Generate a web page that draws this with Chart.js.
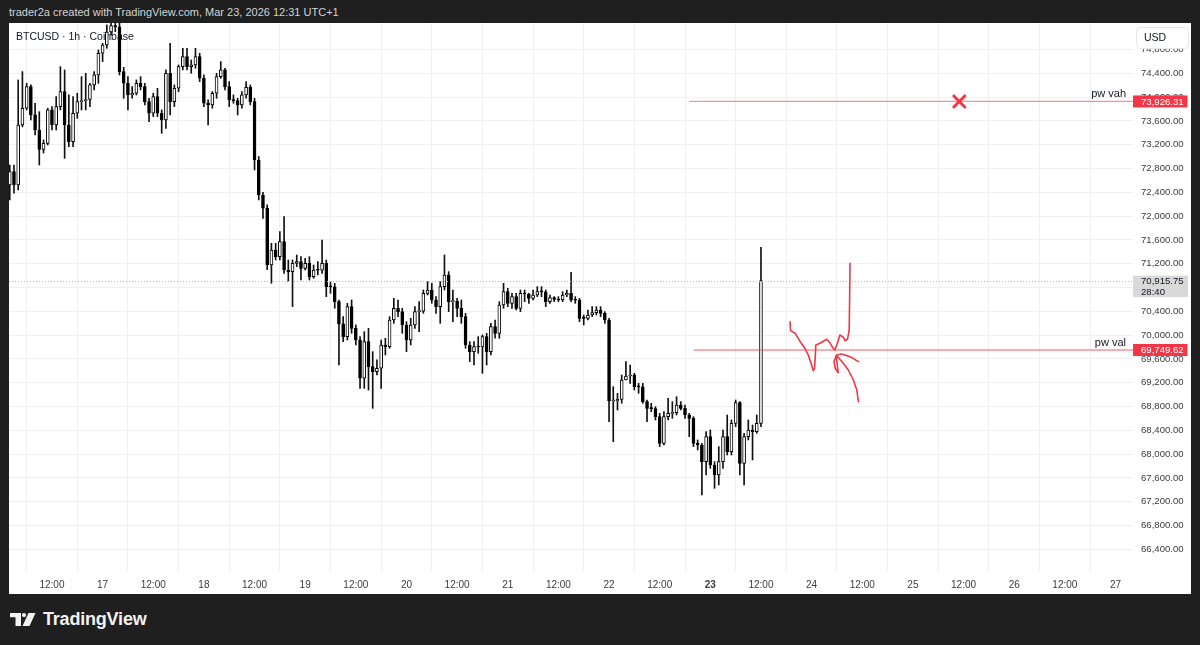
<!DOCTYPE html>
<html>
<head>
<meta charset="utf-8">
<script src="https://cdn.jsdelivr.net/npm/chart.js@4.4.1/dist/chart.umd.min.js"></script>
<style>
  html, body { margin: 0; padding: 0; background: #1f1f1f; width: 1200px; height: 645px; overflow: hidden;
    font-family: "Liberation Sans", Arial, sans-serif; }
  #hdr { position: absolute; left: 9px; top: 6px; font-size: 11px; color: #d4d4d4; white-space: nowrap; }
  #pane { position: absolute; left: 9px; top: 23px; width: 1182px; height: 571px; background: #fff; }
  #chart { position: absolute; left: 0; top: 0; }
  #logo { position: absolute; left: 10px; top: 609px; height: 20px; display: flex; align-items: center; color: #f2f2f2;
    font-size: 18px; font-weight: bold; letter-spacing: -0.2px; }
  #logo svg { margin-right: 7px; }
</style>
</head>
<body>
<div id="hdr">trader2a created with TradingView.com, Mar 23, 2026 12:31 UTC+1</div>
<div id="pane"><canvas id="chart" width="1182" height="571"></canvas></div>
<div id="logo">
  <svg width="26" height="13" viewBox="0 0 26 13"><path d="M0 0H11V13H5.5V4.2H0Z" fill="#f2f2f2"/><circle cx="14" cy="2.1" r="2.1" fill="#f2f2f2"/><path d="M18.5 0H25.5L19.5 13H12.5Z" fill="#f2f2f2"/></svg>
  TradingView
</div>
<script>
// hourly candles, hour 0 = Mar 16 02:00 (UTC+1), last = Mar 23 12:00
const opens = [72523,72747,72523,73531,73812,74176,73700,73447,73122,73223,
  73784,73531,73840,74092,73531,73251,73728,73924,73940,73960,
  74204,74372,74736,74876,75094,75200,75180,74428,74232,74036,
  74064,74232,74176,73924,73728,74008,73728,73616,74400,73924,
  74148,74512,74680,74512,74540,74680,74316,73896,73868,74064,
  74344,74456,74176,73952,73940,73868,74036,74164,73924,72943,
  72355,72131,71178,71430,71318,71570,71094,71066,71206,71234,
  71122,71206,70982,71094,71090,71206,70814,70810,70562,70187,
  69974,70478,70114,69918,69274,69890,69470,69386,69442,69834,
  69806,70254,70450,70394,70170,69918,70170,70394,70400,70702,
  70758,70590,70478,70814,71010,70562,70573,70450,70310,69834,
  69722,69806,69800,69974,69722,70142,70030,70506,70730,70534,
  70646,70450,70702,70690,70618,70674,70730,70725,70562,70629,
  70601,70590,70674,70702,70590,70585,70282,70280,70338,70377,
  70422,70366,70254,68892,68895,68920,69245,69312,69329,69133,
  69130,68881,68769,68765,68629,68181,68629,68685,68696,68825,
  68769,68657,68601,68181,68153,67873,68293,67817,67649,67873,
  68293,68041,68517,68864,67845,68293,68405,68377,68517];
const highs = [72859,72859,74288,74428,74232,74204,73896,73755,73280,73812,
  73840,74008,74512,74456,74036,74008,74064,74344,74400,74232,
  74428,74792,74904,75212,75400,75380,75300,74500,74344,74176,
  74288,74344,74232,73980,74064,74148,73784,74456,74904,74204,
  74540,74820,74820,74624,74820,74736,74372,73952,74092,74400,
  74596,74484,74260,74036,73980,74092,74260,74204,73980,73000,
  72400,72190,71542,71542,71738,71990,71262,71262,71346,71318,
  71290,71318,71178,71234,71598,71262,70898,70870,70590,70310,
  70534,70590,70170,69974,70058,70114,69722,69582,69918,69946,
  70310,70618,70590,70450,70226,70282,70478,70562,70758,70898,
  70870,70646,70898,71346,71066,70758,70618,70590,70366,69890,
  69890,69974,70002,70030,70198,70254,70562,70870,70786,70702,
  70702,70758,70758,70702,70758,70814,70814,70758,70674,70646,
  70646,70730,70758,71055,70646,70618,70338,70422,70478,70478,
  70478,70394,70282,69133,69021,69329,69553,69497,69357,69189,
  69189,68909,68853,68797,68685,68713,68937,68881,68965,68881,
  68825,68685,68629,68237,68181,68377,68405,67873,68125,68405,
  68657,68573,68909,68881,68349,68573,68489,68657,71475];
const lows = [72271,72383,72439,73500,73784,73616,73363,72859,73060,73195,
  73447,73447,73784,72971,73167,73167,73644,73784,73784,73840,
  74120,74232,74596,74820,75040,75100,74372,73980,73784,73980,
  74036,74120,73868,73588,73672,73672,73391,73475,73700,73840,
  74092,74456,74456,74400,74484,74260,73840,73531,73812,73980,
  74316,74120,73840,73896,73700,73812,73980,73868,72775,72271,
  71962,71100,70870,71262,71262,71038,70898,70478,71150,70926,
  71094,70926,70954,71010,71038,70646,70702,70450,69498,69890,
  69918,70030,69834,69105,69105,69077,68769,69330,69105,69666,
  69778,70198,70310,70030,69722,69834,70114,70058,70366,70674,
  70534,70366,70198,70758,70394,70226,70310,70198,69778,69554,
  69498,69694,69357,69498,69666,69946,69946,70450,70478,70450,
  70422,70394,70562,70534,70590,70646,70646,70478,70534,70562,
  70562,70562,70646,70562,70534,70226,70170,70254,70310,70338,
  70310,70198,68545,68209,68741,68853,69245,69189,69077,69021,
  68853,68545,68713,68573,68125,68153,68573,68601,68657,68741,
  68601,68293,68125,68069,67312,67649,67761,67425,67481,67761,
  67985,67985,68461,67649,67481,68237,67901,68349,68461];
const closes = [72747,72523,73531,73812,74176,73700,73447,73122,73223,73784,
  73531,73840,74092,73531,73251,73728,73924,73940,73960,74204,
  74372,74736,74876,75094,75200,75180,74428,74232,74036,74064,
  74232,74176,73924,73728,74008,73728,73616,74400,73924,74148,
  74512,74680,74512,74540,74680,74316,73896,73868,74064,74344,
  74456,74176,73952,73940,73868,74036,74164,73924,72943,72355,
  72131,71178,71430,71318,71570,71094,71066,71206,71234,71122,
  71206,70982,71094,71090,71206,70814,70810,70562,70187,69974,
  70478,70114,69918,69274,69890,69470,69386,69442,69834,69806,
  70254,70450,70394,70170,69918,70170,70394,70400,70702,70758,
  70590,70478,70814,71010,70562,70573,70450,70310,69834,69722,
  69806,69800,69974,69722,70142,70030,70506,70730,70534,70646,
  70450,70702,70690,70618,70674,70730,70725,70562,70629,70601,
  70590,70674,70702,70590,70585,70282,70280,70338,70377,70422,
  70366,70254,68892,68895,68920,69245,69312,69329,69133,69130,
  68881,68769,68765,68629,68181,68629,68685,68696,68825,68769,
  68657,68601,68181,68153,67873,68293,67817,67649,67873,68293,
  68041,68517,68864,67845,68293,68405,68377,68517,70915.75];

const xTickHours = [10,22,34,46,58,70,82,94,106,118,130,142,154,166,178,190,202,214,226,238,250,262];
const xTickLabels = ['12:00','17','12:00','18','12:00','19','12:00','20','12:00','21','12:00','22',
  '12:00','23','12:00','24','12:00','25','12:00','26','12:00','27'];
const boldTick = '23';
const yTickValues = [66400,66800,67200,67600,68000,68400,68800,69200,69600,70000,70400,70800,
  71200,71600,72000,72400,72800,73200,73600,74000,74400,74800];

const currentPrice = 70915.75;
const countdown = '28:40';
const levelPrices = [73926.31, 69749.62];
const levelNames = ['pw vah', 'pw val'];
const levelStart = [161.0, 162.0];
const crossMark = [225.0, 73926.31];
// red brush drawings, [hour, price]
const brushZig = [[184.9,70225],[185.0,70074],[186.1,70030],[187.3,69889],[188.4,69778],[189.2,69665],
  [190.0,69497],[190.4,69402],[190.7,69442],[190.9,69694],[191.0,69833],[192.0,69862],[193.6,69929],
  [194.4,69862],[195.1,69778],[195.5,69750],[196.1,69862],[196.7,70002],[197.5,69963],[197.9,69906],
  [198.5,69929],[198.9,70086],[199.0,70590],[199.1,71207]];
const brushArrow = [[201.1,68881],[200.7,69077],[199.9,69245],[198.7,69413],[197.5,69526],[196.3,69627],
  [195.8,69649],[195.3,69553],[195.6,69442],[196.3,69368],[196.0,69548],[195.8,69649]];
const brushHead = [[201.1,69553],[199.1,69637],[197.1,69682],[195.8,69660]];

const FONT = '"Liberation Sans", Arial, sans-serif';
const fmt = v => v.toLocaleString('en-US', { minimumFractionDigits: 2, maximumFractionDigits: 2 });

const bodies = opens.map((o, i) => ({ x: i, y: [o, closes[i]] }));
const wicks = lows.map((l, i) => ({ x: i, y: [l, highs[i]] }));
const upDown = opens.map((o, i) => closes[i] >= o);

// scales reserve room for edge labels, the pane must not
function noEdgePadding(s) {
  s.paddingTop = 0; s.paddingBottom = 0; s.paddingLeft = 0; s.paddingRight = 0;
}

const overlay = {
  id: 'overlay',
  beforeDatasetsDraw(chart) {
    const c = chart.ctx;
    c.save();
    c.font = '10.5px ' + FONT;
    c.fillStyle = '#131722';
    c.textBaseline = 'middle';
    c.fillText('BTCUSD · 1h · Coinbase', 7, 14);
    c.restore();
  },
  afterDatasetsDraw(chart) {
    const c = chart.ctx, a = chart.chartArea, x = chart.scales.x, y = chart.scales.y;
    c.save();
    c.beginPath();
    c.rect(a.left, a.top, a.right - a.left, a.bottom - a.top);
    c.clip();

    // last price dotted line
    const cy = y.getPixelForValue(currentPrice);
    c.strokeStyle = '#b4b6bd';
    c.lineWidth = 1;
    c.setLineDash([1, 2]);
    c.beginPath();
    c.moveTo(a.left, Math.round(cy) + 0.5);
    c.lineTo(a.right, Math.round(cy) + 0.5);
    c.stroke();
    c.setLineDash([]);

    // horizontal rays
    levelPrices.forEach((p, i) => {
      const py = y.getPixelForValue(p);
      c.strokeStyle = 'rgba(242,54,69,0.55)';
      c.lineWidth = 1.3;
      c.beginPath();
      c.moveTo(x.getPixelForValue(levelStart[i]), py);
      c.lineTo(a.right, py);
      c.stroke();
      c.fillStyle = '#131722';
      c.font = '11px ' + FONT;
      c.textAlign = 'right';
      c.textBaseline = 'middle';
      c.fillText(levelNames[i], a.right - 7, py - 7);
    });

    // brush
    c.strokeStyle = '#f23645';
    c.lineWidth = 1.6;
    c.lineJoin = 'round';
    c.lineCap = 'round';
    [brushZig, brushArrow, brushHead].forEach(path => {
      c.beginPath();
      path.forEach(([h, p], i) => {
        const px = x.getPixelForValue(h), py = y.getPixelForValue(p);
        if (i) c.lineTo(px, py); else c.moveTo(px, py);
      });
      c.stroke();
    });

    // cross
    const mx = x.getPixelForValue(crossMark[0]), my = y.getPixelForValue(crossMark[1]);
    c.lineWidth = 3;
    c.beginPath();
    c.moveTo(mx - 5.5, my - 5.5); c.lineTo(mx + 5.5, my + 5.5);
    c.moveTo(mx + 5.5, my - 5.5); c.lineTo(mx - 5.5, my + 5.5);
    c.stroke();
    c.restore();

    // price axis labels
    c.save();
    const ax = a.right;
    c.font = '9.6px ' + FONT;
    c.textAlign = 'left';
    c.textBaseline = 'middle';
    levelPrices.forEach(p => {
      const py = y.getPixelForValue(p);
      c.fillStyle = '#f23645';
      c.fillRect(ax, py - 6, 54.5, 12);
      c.fillStyle = '#ffffff';
      c.fillText(fmt(p), ax + 8, py + 0.5);
    });
    c.fillStyle = '#d9d9d9';
    c.fillRect(ax, cy - 5, 55, 21.5);
    c.fillStyle = '#131722';
    c.fillText(fmt(currentPrice), ax + 8, cy + 1);
    c.fillText(countdown, ax + 8, cy + 11.5);

    // currency button
    c.beginPath();
    c.roundRect(1127.5, 4.5, 52, 21, 4);
    c.fillStyle = '#ffffff';
    c.fill();
    c.strokeStyle = '#e6e6e6';
    c.lineWidth = 1;
    c.stroke();
    c.fillStyle = '#131722';
    c.font = '10.5px ' + FONT;
    c.fillText('USD', 1135, 15);
    c.restore();
  }
};

new Chart(document.getElementById('chart'), {
  type: 'bar',
  data: {
    datasets: [
      {
        data: bodies,
        order: 0,
        grouped: false,
        barThickness: 3,
        minBarLength: 1,
        borderWidth: 1,
        borderSkipped: false,
        borderColor: '#000000',
        backgroundColor: upDown.map(u => u ? '#ffffff' : '#000000')
      },
      {
        data: wicks,
        order: 1,
        grouped: false,
        barThickness: 1,
        borderWidth: 0,
        backgroundColor: '#111111'
      }
    ]
  },
  options: {
    responsive: false,
    animation: false,
    devicePixelRatio: 1,
    layout: { padding: 0, autoPadding: false },
    plugins: { legend: { display: false }, tooltip: { enabled: false } },
    scales: {
      x: {
        type: 'linear',
        min: -0.18,
        max: 266.15,
        offset: false,
        border: { display: false },
        grid: { color: '#f0f0f0', drawTicks: false },
        afterBuildTicks: s => { s.ticks = xTickHours.map(v => ({ value: v })); },
        afterFit: s => { s.height = 23; noEdgePadding(s); },
        ticks: {
          autoSkip: false,
          maxRotation: 0,
          padding: 8,
          color: '#3b3b3b',
          font: ctx => ({ family: FONT, size: 10, weight: xTickLabels[ctx.index] === boldTick ? 'bold' : 'normal' }),
          callback: (v, i) => xTickLabels[i]
        }
      },
      y: {
        position: 'right',
        min: 66035,
        max: 75245,
        border: { display: false },
        grid: { color: '#f0f0f0', drawTicks: false },
        afterBuildTicks: s => { s.ticks = yTickValues.map(v => ({ value: v })); },
        afterFit: s => { s.width = 58; noEdgePadding(s); },
        ticks: {
          padding: 8,
          color: '#3b3b3b',
          font: { family: FONT, size: 9.6 },
          callback: v => fmt(v)
        }
      }
    }
  },
  plugins: [overlay]
});
</script>
</body>
</html>
